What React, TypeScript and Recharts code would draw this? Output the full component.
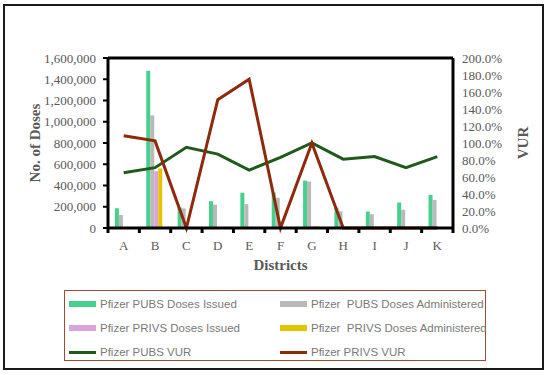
import React from 'react';
import { ComposedChart, Bar, Line, XAxis, YAxis, CartesianGrid, Legend, ReferenceLine } from 'recharts';

const districts = ['A', 'B', 'C', 'D', 'E', 'F', 'G', 'H', 'I', 'J', 'K'];
const pubsIssued = [186000, 1480000, 192000, 252000, 332000, 335000, 446000, 192000, 155000, 240000, 312000];
const pubsAdministered = [122000, 1060000, 185000, 220000, 225000, 285000, 438000, 158000, 130000, 172000, 264000];
const privsIssued = [0, 535000, 0, 2000, 2000, 0, 16000, 0, 0, 0, 0];
const privsAdministered = [0, 560000, 0, 3000, 3500, 0, 16000, 0, 0, 0, 0];
const pubsVur = [65, 71, 95, 87, 68, 83, 100, 81, 84, 71, 84];
const privsVur = [108.5, 102.5, 0, 151, 175, 0, 100, 0, 0, 0, 0];

const doseTicks = [0, 200000, 400000, 600000, 800000, 1000000, 1200000, 1400000, 1600000];
const vurTicks = [0, 20, 40, 60, 80, 100, 120, 140, 160, 180, 200];

const data = districts.map((d, i) => ({
  district: d,
  pubsIssued: pubsIssued[i],
  pubsAdministered: pubsAdministered[i],
  privsIssued: privsIssued[i],
  privsAdministered: privsAdministered[i],
  pubsVur: pubsVur[i],
  privsVur: privsVur[i],
}));

// legend reads row by row, two columns
const legendOrder = ['pubsIssued', 'pubsAdministered', 'privsIssued', 'privsAdministered', 'pubsVur', 'privsVur'];

const SERIF = '"Liberation Serif", "Times New Roman", serif';
const TICK_COLOR = '#595959';
const BAND = (453 - 108) / districts.length;

// category label plus a small tick mark on the left boundary of each band
const DistrictTick = (props: any) => {
  const { x, y, payload, index } = props;
  return (
    <g>
      <line x1={x - BAND / 2} x2={x - BAND / 2} y1={y - 8} y2={y - 3} stroke="#000" strokeWidth={3} />
      {index === districts.length - 1 && (
        <line x1={x + BAND / 2} x2={x + BAND / 2} y1={y - 8} y2={y - 3} stroke="#000" strokeWidth={3} />
      )}
      <text x={x} y={y + 14} textAnchor="middle" fill={TICK_COLOR} fontFamily={SERIF} fontSize={13}>
        {payload.value}
      </text>
    </g>
  );
};

const LegendBox = (props: any) => {
  const items = [...(props.payload || [])].sort(
    (a: any, b: any) => legendOrder.indexOf(a.dataKey) - legendOrder.indexOf(b.dataKey)
  );
  return (
    <div
      style={{
        border: '1.5px solid #a04a35',
        height: '100%',
        boxSizing: 'border-box',
        display: 'grid',
        gridTemplateColumns: '211px 1fr',
        gridAutoRows: '24px',
        padding: '1px 0 0 4px',
        fontFamily: '"Liberation Sans", Arial, sans-serif',
        fontSize: 11.5,
        color: '#7a7a7a',
      }}
    >
      {items.map((entry: any) => (
        <div key={entry.dataKey} style={{ display: 'flex', alignItems: 'center', whiteSpace: 'pre' }}>
          <span
            style={{
              display: 'inline-block',
              width: 27,
              height: entry.type === 'line' ? 3 : 6,
              background: entry.color,
              marginRight: 4,
            }}
          />
          {entry.value}
        </div>
      ))}
    </div>
  );
};

export default function App() {
  return (
    <div style={{ position: 'absolute', left: 0, top: 0, width: 550, height: 375, background: '#fff' }}>
      <div
        style={{
          position: 'absolute',
          left: 3,
          top: 4,
          width: 541,
          height: 366,
          border: '2px solid #1a1a1a',
          boxSizing: 'border-box',
        }}
      />
      <div style={{ position: 'absolute', left: 0, top: 0 }}>
        <ComposedChart
          width={550}
          height={375}
          data={data}
          margin={{ top: 58, right: 22, bottom: 102, left: 10 }}
          barCategoryGap="22%"
          barGap={0}
        >
          <CartesianGrid vertical={false} stroke="#d9d9d9" strokeWidth={1.5} />
          <XAxis
            dataKey="district"
            height={45}
            axisLine={{ stroke: '#000', strokeWidth: 3 }}
            tickLine={false}
            tick={<DistrictTick />}
            interval={0}
            label={{
              value: 'Districts',
              position: 'insideBottom',
              offset: 3,
              fill: TICK_COLOR,
              fontFamily: SERIF,
              fontSize: 15,
              fontWeight: 'bold',
            }}
          />
          <YAxis
            yAxisId="doses"
            width={98}
            domain={[0, 1600000]}
            ticks={doseTicks}
            interval={0}
            tickFormatter={(v: number) => v.toLocaleString('en-US')}
            axisLine={{ stroke: '#000', strokeWidth: 3 }}
            tickLine={{ stroke: '#000', strokeWidth: 2 }}
            tickSize={5}
            tickMargin={7}
            tick={{ fill: TICK_COLOR, fontFamily: SERIF, fontSize: 13 }}
            label={{
              value: 'No. of Doses',
              angle: -90,
              position: 'insideLeft',
              offset: 25,
              style: { textAnchor: 'middle' },
              fill: TICK_COLOR,
              fontFamily: SERIF,
              fontSize: 15,
              fontWeight: 'bold',
            }}
          />
          <YAxis
            yAxisId="vur"
            orientation="right"
            width={75}
            domain={[0, 200]}
            ticks={vurTicks}
            interval={0}
            tickFormatter={(v: number) => `${v.toFixed(1)}%`}
            axisLine={{ stroke: '#000', strokeWidth: 3 }}
            tickLine={false}
            tickMargin={3}
            tick={{ fill: TICK_COLOR, fontFamily: SERIF, fontSize: 13, textAnchor: 'start' }}
            label={{
              value: 'VUR',
              angle: -90,
              position: 'insideRight',
              offset: 5,
              style: { textAnchor: 'middle' },
              fill: TICK_COLOR,
              fontFamily: SERIF,
              fontSize: 15,
              fontWeight: 'bold',
            }}
          />
          <ReferenceLine yAxisId="doses" y={1600000} stroke="#000" strokeWidth={3} />
          <Bar yAxisId="doses" dataKey="pubsIssued" name="Pfizer PUBS Doses Issued" fill="#45d08c" isAnimationActive={false} />
          <Bar yAxisId="doses" dataKey="pubsAdministered" name="Pfizer  PUBS Doses Administered" fill="#b9b9b9" isAnimationActive={false} />
          <Bar yAxisId="doses" dataKey="privsIssued" name="Pfizer PRIVS Doses Issued" fill="#d9a3dc" isAnimationActive={false} />
          <Bar yAxisId="doses" dataKey="privsAdministered" name="Pfizer  PRIVS Doses Administered" fill="#e3c400" isAnimationActive={false} />
          <Line yAxisId="vur" type="linear" dataKey="pubsVur" name="Pfizer PUBS VUR" stroke="#1f5a1a" strokeWidth={3} dot={false} isAnimationActive={false} />
          <Line yAxisId="vur" type="linear" dataKey="privsVur" name="Pfizer PRIVS VUR" stroke="#8e2a0c" strokeWidth={3} dot={false} isAnimationActive={false} />
          <Legend
            layout="horizontal"
            verticalAlign="middle"
            align="center"
            content={<LegendBox />}
            wrapperStyle={{ left: 64, top: 290, width: 422, height: 71 }}
          />
        </ComposedChart>
      </div>
    </div>
  );
}
